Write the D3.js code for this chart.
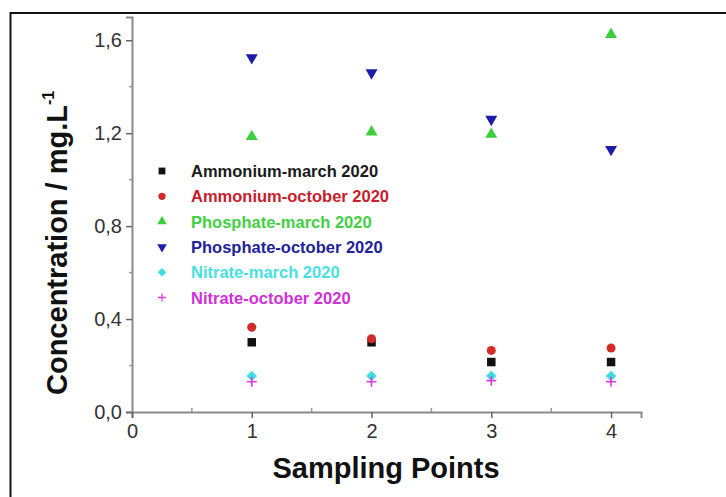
<!DOCTYPE html>
<html>
<head>
<meta charset="utf-8">
<script src="https://cdn.jsdelivr.net/npm/d3@7"></script>
<style>
  body { margin: 0; background: #fff; }
  svg { display: block; font-family: Arial, "Liberation Sans", sans-serif; }
</style>
</head>
<body>
<div id="chart"></div>
<script>
// --- data ---
const samplingPoints = [1, 2, 3, 4];
const ammoniumMarch = [0.30, 0.30, 0.215, 0.215];
const ammoniumOct = [0.365, 0.315, 0.265, 0.275];
const phosphateMarch = [1.185, 1.205, 1.195, 1.625];
const phosphateOct = [1.525, 1.46, 1.26, 1.13];
const nitrateMarch = [0.155, 0.155, 0.155, 0.155];
const nitrateOct = [0.13, 0.13, 0.135, 0.13];

const seriesNames = ["Ammonium-march 2020", "Ammonium-october 2020", "Phosphate-march 2020",
  "Phosphate-october 2020", "Nitrate-march 2020", "Nitrate-october 2020"];
const seriesValues = [ammoniumMarch, ammoniumOct, phosphateMarch, phosphateOct, nitrateMarch, nitrateOct];
const seriesColors = ["#111111", "#d42a2a", "#3ccf3c", "#1c1ca8", "#3fdede", "#dd3ddd"];
const textColors = ["#1a1a1a", "#c8202c", "#44d044", "#22229a", "#48e0e0", "#d030d8"];
const seriesShapes = ["square", "circle", "up", "down", "diamond", "plus"];

const yTicks = [0, 0.4, 0.8, 1.2, 1.6];
const yMinor = [0.2, 0.6, 1.0, 1.4];
const xTicks = [0, 1, 2, 3, 4];
const xMinor = [0.5, 1.5, 2.5, 3.5];

const W = 726, H = 497;
const svg = d3.select('#chart').append('svg').attr('width', W).attr('height', H);

// frame around the figure (runs off right and bottom)
svg.append('rect').attr('x', 10.5).attr('y', 13).attr('width', 730).attr('height', 500)
  .attr('fill', 'none').attr('stroke', '#111').attr('stroke-width', 2);

const x = d3.scaleLinear().domain([0, 4.25]).range([132, 641]);
const y = d3.scaleLinear().domain([0, 1.7]).range([412, 17]);

const axisColor = '#8a8a8a';

// --- y axis ---
const yAxis = svg.append('g').attr('transform', `translate(${x(0)},0)`)
  .call(d3.axisLeft(y).tickValues(yTicks).tickSize(6).tickPadding(4)
    .tickFormat(d => d3.format('.1f')(d).replace('.', ',')));
yAxis.select('.domain').attr('stroke', axisColor).attr('stroke-width', 2);
yAxis.selectAll('.tick line').attr('stroke', '#666').attr('stroke-width', 1.5);
yAxis.selectAll('.tick text').attr('font-size', 20).attr('fill', '#333')
  .attr('font-family', 'Arial, "Liberation Sans", sans-serif');
yAxis.append('g').selectAll('line').data(yMinor).join('line')
  .attr('x1', -3).attr('x2', 0).attr('y1', d => y(d)).attr('y2', d => y(d))
  .attr('stroke', '#999').attr('stroke-width', 1.5);

// --- x axis ---
const xAxis = svg.append('g').attr('transform', `translate(0,${y(0)})`)
  .call(d3.axisBottom(x).tickValues(xTicks).tickSize(6).tickPadding(6).tickFormat(d3.format('d')));
xAxis.select('.domain').attr('stroke', axisColor).attr('stroke-width', 2);
xAxis.selectAll('.tick line').attr('stroke', '#666').attr('stroke-width', 1.5);
xAxis.selectAll('.tick text').attr('font-size', 20).attr('fill', '#333')
  .attr('font-family', 'Arial, "Liberation Sans", sans-serif');
xAxis.append('g').selectAll('line').data(xMinor).join('line')
  .attr('x1', d => x(d)).attr('x2', d => x(d)).attr('y1', -4).attr('y2', 0)
  .attr('stroke', '#999').attr('stroke-width', 1.5);

// --- axis titles ---
svg.append('text').attr('x', 386).attr('y', 478).attr('text-anchor', 'middle')
  .attr('font-size', 29).attr('font-weight', 'bold').attr('fill', '#111')
  .text('Sampling Points');

const yTitle = svg.append('text')
  .attr('transform', 'translate(67,395) rotate(-90)')
  .attr('font-size', 29).attr('font-weight', 'bold').attr('fill', '#111');
yTitle.append('tspan').text('Concentration / mg.L');
yTitle.append('tspan').attr('dy', -13).attr('font-size', 16).text('-1');

// --- marker shapes ---
function marker(sel, shape, color) {
  if (shape === 'square') {
    sel.append('path').attr('d', d3.symbol(d3.symbolSquare, 72)()).attr('fill', color);
  } else if (shape === 'circle') {
    sel.append('path').attr('d', d3.symbol(d3.symbolCircle, 64)()).attr('fill', color);
  } else if (shape === 'up') {
    sel.append('path').attr('d', d3.symbol(d3.symbolTriangle, 62)()).attr('fill', color);
  } else if (shape === 'down') {
    sel.append('path').attr('d', d3.symbol(d3.symbolTriangle, 62)()).attr('fill', color)
      .attr('transform', 'rotate(180)');
  } else if (shape === 'diamond') {
    // square turned 45 degrees, same width and height
    sel.append('path').attr('d', d3.symbol(d3.symbolSquare, 56)()).attr('fill', color)
      .attr('transform', 'rotate(45)');
  } else {
    sel.append('path').attr('d', 'M-5,0H5M0,-5V5').attr('stroke', color).attr('stroke-width', 1.6)
      .attr('fill', 'none');
  }
}

// --- points ---
const plot = svg.append('g');
seriesValues.forEach((vals, i) => {
  const g = plot.append('g');
  vals.forEach((v, j) => {
    const m = g.append('g').attr('transform', `translate(${x(samplingPoints[j])},${y(v)})`);
    marker(m, seriesShapes[i], seriesColors[i]);
  });
});

// --- legend ---
const legend = svg.append('g').attr('transform', 'translate(162,171)');
seriesNames.forEach((name, i) => {
  const row = legend.append('g').attr('transform', `translate(0,${i * 25.3})`);
  const m = row.append('g');
  marker(m, seriesShapes[i], seriesColors[i]);
  m.attr('transform', 'scale(0.8)');
  row.append('text').attr('x', 29).attr('y', 6).attr('font-size', 16.5).attr('font-weight', 'bold')
    .attr('fill', textColors[i]).text(name);
});
</script>
</body>
</html>
